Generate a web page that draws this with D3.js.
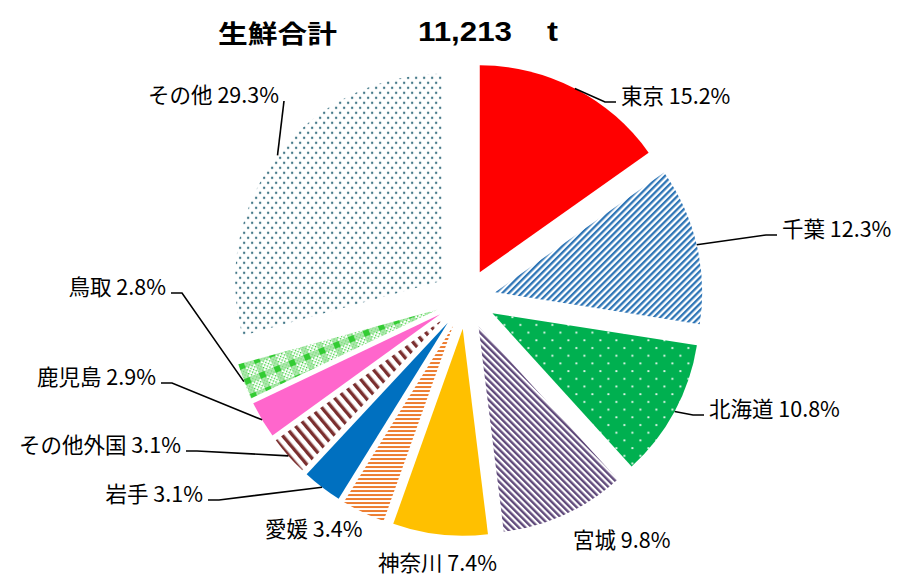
<!DOCTYPE html>
<html>
<head>
<meta charset="utf-8" />
<title>生鮮合計</title>
<script src="https://cdn.jsdelivr.net/npm/d3@7"></script>
<style>
	body { margin: 0; background: #fff; }
	svg text { font-family: "Noto Sans CJK JP", "Noto Sans", sans-serif; fill: #000; }
</style>
</head>
<body>
<svg id="chart" width="898" height="576"></svg>
<script>
// data
const names = ['東京', '千葉', '北海道', '宮城', '神奈川', '愛媛', '岩手', 'その他外国', '鹿児島', '鳥取', 'その他'];
const shares = [15.2, 12.3, 10.8, 9.8, 7.4, 3.4, 3.1, 3.1, 2.9, 2.8, 29.3];
const titleText = '生鮮合計';
const totalText = '11,213';
const unitText = 't';

// fills (solid colours or pattern ids)
const fills = ['#FF0000', 'url(#p-chiba)', 'url(#p-hokkaido)', 'url(#p-miyagi)', '#FFC000',
	'url(#p-ehime)', '#0070C0', 'url(#p-foreign)', '#FF66CC', 'url(#p-tottori)', 'url(#p-other)'];

// label layout: x of text edge, y centre, anchor, leader kind
const labelLayout = [
	[621, 94, 'start', 'h'], [782, 227, 'start', 'h'], [709, 407, 'start', 'h'],
	[573, 538, 'start', ''], [378, 561, 'start', ''], [265, 527, 'start', ''],
	[203, 492, 'end', 'h'], [181, 443, 'end', 'h'], [156, 375, 'end', 'h'],
	[166, 285, 'end', 'h'], [279, 93, 'end', 'v']
];

const svg = d3.select('#chart');
const cx = 466, cy = 299, radius = 207, explode = 30;

const defs = svg.append('defs');

function pattern(id, w, h, transform, bg) {
	let p = defs.append('pattern').attr('id', id)
		.attr('patternUnits', 'userSpaceOnUse')
		.attr('width', w).attr('height', h);
	if (transform) p.attr('patternTransform', transform);
	p.append('rect').attr('width', w).attr('height', h).attr('fill', bg || '#fff');
	return p;
}

// 千葉: thin blue diagonal stripes
pattern('p-chiba', 4.6, 4.6, 'rotate(45)')
	.append('rect').attr('width', 2.3).attr('height', 4.6).attr('fill', '#2E75B6');

// 北海道: green with small white dots
let ph = pattern('p-hokkaido', 16, 15.4, null, '#00B050');
ph.append('circle').attr('cx', 4).attr('cy', 4).attr('r', 1.1).attr('fill', '#e6f7ec');
ph.append('circle').attr('cx', 12).attr('cy', 11.7).attr('r', 1.1).attr('fill', '#e6f7ec');

// 宮城: purple diagonal stripes
pattern('p-miyagi', 4.6, 4.6, 'rotate(-45)')
	.append('rect').attr('width', 2.4).attr('height', 4.6).attr('fill', '#604A7B');

// 愛媛: orange horizontal stripes
pattern('p-ehime', 8, 4)
	.append('rect').attr('width', 8).attr('height', 2).attr('fill', '#ED7D31');

// その他外国: wide brown diagonal bars
pattern('p-foreign', 8, 8, 'rotate(-40)')
	.append('rect').attr('width', 3.4).attr('height', 8).attr('fill', '#7B2F2F');

// 鳥取: green plaid
let pt = pattern('p-tottori', 16, 16, 'rotate(-22)');
for (let i = 0; i < 16; i += 2) {
	for (let j = 0; j < 16; j += 2) {
		if ((i + j) % 4 === 0) pt.append('rect').attr('x', i).attr('y', j).attr('width', 1.4).attr('height', 1.4).attr('fill', '#33CC33');
	}
}
pt.append('rect').attr('x', 0).attr('y', 8).attr('width', 16).attr('height', 6).attr('fill', '#8fe08f').attr('opacity', 0.7);
pt.append('rect').attr('x', 2).attr('y', 0).attr('width', 6).attr('height', 16).attr('fill', '#8fe08f').attr('opacity', 0.7);
pt.append('rect').attr('x', 2).attr('y', 8).attr('width', 6).attr('height', 6).attr('fill', '#33CC33');

// その他: small grey-blue dots
let po = pattern('p-other', 8, 10);
po.append('circle').attr('cx', 2).attr('cy', 2).attr('r', 1.2).attr('fill', '#3F7585');
po.append('circle').attr('cx', 6).attr('cy', 7).attr('r', 1.2).attr('fill', '#3F7585');

// pie
let pie = d3.pie().sort(null).value(d => d);
let arcs = pie(shares);
let arc = d3.arc().innerRadius(0).outerRadius(radius);

function offsetOf(d) {
	let a = (d.startAngle + d.endAngle) / 2;
	return [Math.sin(a) * explode, -Math.cos(a) * explode];
}

let g = svg.append('g').attr('transform', `translate(${cx},${cy})`);

g.selectAll('path.slice')
	.data(arcs)
	.enter()
	.append('path')
	.attr('class', 'slice')
	.attr('transform', d => { let o = offsetOf(d); return `translate(${o[0]},${o[1]})`; })
	.attr('d', arc)
	.attr('fill', (d, i) => fills[i]);

// labels
let fontSize = 21.5;
let labels = svg.append('g');

arcs.forEach((d, i) => {
	let [lx, ly, anchor, kind] = labelLayout[i];
	labels.append('text')
		.attr('x', lx).attr('y', ly)
		.attr('dominant-baseline', 'central')
		.attr('text-anchor', anchor)
		.style('font-size', fontSize + 'px')
		.text(names[i] + ' ' + shares[i].toFixed(1) + '%');

	if (!kind) return;
	let a = (d.startAngle + d.endAngle) / 2;
	let o = offsetOf(d);
	let px = cx + o[0] + Math.sin(a) * radius;
	let py = cy + o[1] - Math.cos(a) * radius;
	let dir = anchor === 'start' ? -1 : 1;
	let pts;
	if (kind === 'h') {
		pts = [[px, py], [lx + dir * 16, ly + 8], [lx + dir * 5, ly + 8]];
	} else {
		pts = [[px, py], [lx + 5, ly + 8]];
	}
	labels.append('path')
		.attr('d', d3.line()(pts))
		.attr('fill', 'none')
		.attr('stroke', '#000')
		.attr('stroke-width', 1.6);
});

// title
let title = svg.append('g').style('font-weight', 'bold');
title.append('text').attr('x', 218).attr('y', 32).attr('dominant-baseline', 'central')
	.attr('textLength', 119).attr('lengthAdjust', 'spacingAndGlyphs')
	.style('font-size', '25px').text(titleText);
title.append('text').attr('x', 418).attr('y', 32).attr('dominant-baseline', 'central')
	.attr('textLength', 94).attr('lengthAdjust', 'spacingAndGlyphs')
	.style('font-size', '27px').style('font-family', '"Liberation Sans Narrow", "Liberation Sans", sans-serif')
	.text(totalText);
title.append('text').attr('x', 547).attr('y', 32).attr('dominant-baseline', 'central')
	.attr('textLength', 11).attr('lengthAdjust', 'spacingAndGlyphs')
	.style('font-size', '27px').style('font-family', '"Liberation Sans Narrow", "Liberation Sans", sans-serif')
	.text(unitText);
</script>
</body>
</html>
